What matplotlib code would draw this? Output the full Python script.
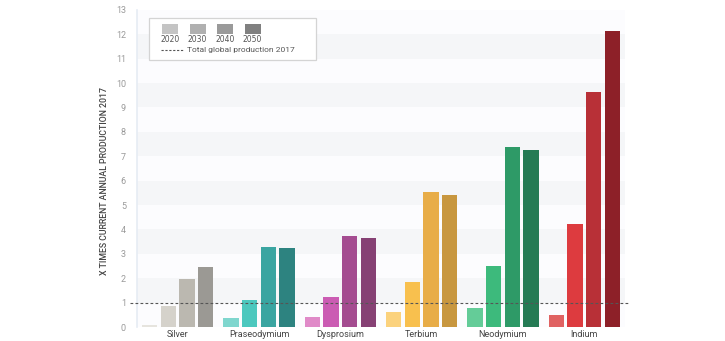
import matplotlib
matplotlib.use("Agg")
import matplotlib.pyplot as plt
from matplotlib.patches import Rectangle
import numpy as np

categories = ["Silver", "Praseodymium", "Dysprosium", "Terbium", "Neodymium", "Indium"]
years = ["2020", "2030", "2040", "2050"]
values = {
    "Silver":       [0.10, 0.85, 1.95, 2.45],
    "Praseodymium": [0.35, 1.10, 3.30, 3.25],
    "Dysprosium":   [0.40, 1.25, 3.73, 3.65],
    "Terbium":      [0.60, 1.85, 5.53, 5.42],
    "Neodymium":    [0.80, 2.50, 7.38, 7.25],
    "Indium":       [0.50, 4.22, 9.62, 12.12],
}
colors = {
    "Silver":       ["#e6e4de", "#d5d2cb", "#bbb8b0", "#9b9994"],
    "Praseodymium": ["#7fd6ce", "#4cc8be", "#3aa5a1", "#2d8380"],
    "Dysprosium":   ["#e08ac8", "#cb5cb3", "#a44c90", "#864174"],
    "Terbium":      ["#fbd27d", "#f8c04e", "#e8ad48", "#c8973f"],
    "Neodymium":    ["#64cc98", "#3dba7c", "#2e9a67", "#257b54"],
    "Indium":       ["#e06262", "#dd3b3f", "#b83037", "#8d2028"],
}
legend_colors = ["#c4c4c4", "#b0b0b0", "#9a9a9a", "#808080"]
reference_level = 1.0

fig = plt.figure(figsize=(7.25, 3.41), dpi=100)
ax = fig.add_axes([0.189, 0.041, 0.673, 0.930])
ax.set_facecolor("#fcfcfe")
ax.set_xlim(-0.5, 5.5)
ax.set_ylim(0, 13)

for k in range(1, 13, 2):
    ax.axhspan(k, k + 1, color="#f5f6f8", zorder=0, lw=0)

step = 0.23
width = 0.19
x = np.arange(len(categories))
for i, cat in enumerate(categories):
    for j in range(4):
        ax.bar(x[i] + (j - 1.5) * step, values[cat][j], width=width,
               color=colors[cat][j], zorder=2)

ax.axhline(reference_level, xmin=-0.015, xmax=1.006, color="#555555", lw=0.8,
           ls=(0, (2.5, 2)), zorder=3, clip_on=False)

for s in ax.spines.values():
    s.set_visible(False)
ax.spines["left"].set_visible(True)
ax.spines["left"].set_color("#e6ecf4")
ax.spines["left"].set_linewidth(1.2)

ax.set_yticks(range(0, 14))
ax.tick_params(axis="y", length=0, labelsize=6.5, labelcolor="#9a9a9a", pad=8)
ax.set_xticks(x)
ax.set_xticklabels(categories)
ax.tick_params(axis="x", length=0, labelsize=6.5, labelcolor="#444444", pad=2)
for lab in ax.get_yticklabels() + ax.get_xticklabels():
    lab.set_family("Roboto")

ax.set_ylabel("X TIMES CURRENT ANNUAL PRODUCTION 2017", fontsize=6.3,
              color="#444444", family="Roboto", fontweight="medium")
ax.yaxis.set_label_coords(-0.058, 0.46)

# legend box
lax = fig.add_axes([148 / 725, 1 - 61 / 341, 169 / 725, 44 / 341])
lax.set_xlim(0, 169)
lax.set_ylim(44, 0)
lax.axis("off")
lax.add_patch(Rectangle((1, 1), 167, 42, facecolor="white", edgecolor="#d4d4d4",
                        lw=0.9, clip_on=False))
for j, yr in enumerate(years):
    cx = 22 + j * 27.5
    lax.add_patch(Rectangle((cx - 8, 7), 16, 10, facecolor=legend_colors[j], lw=0))
    lax.text(cx, 22.5, yr, ha="center", va="center", fontsize=5.5, color="#555555",
             family="DejaVu Sans")
lax.plot([13, 35], [33, 33], color="#555555", lw=0.8, ls=(0, (2, 1.5)))
lax.text(39, 33, "Total global production 2017", ha="left", va="center",
         fontsize=6, color="#555555", family="Roboto")

fig.savefig("out.png", dpi=100, facecolor="white")
